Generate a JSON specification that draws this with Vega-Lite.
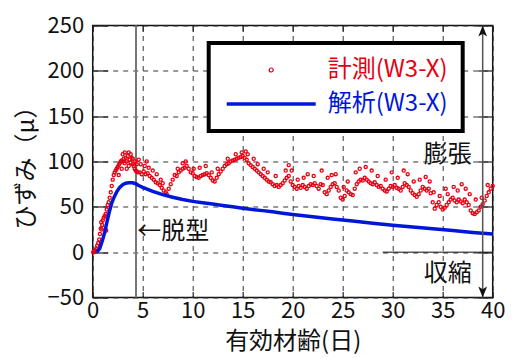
{
  "$schema": "https://vega.github.io/schema/vega-lite/v6.json",
  "width": 400,
  "height": 272,
  "autosize": {"type": "none"},
  "padding": {"left": 92.7, "top": 25.5, "right": 20.3, "bottom": 60.2},
  "background": "white",
  "config": {
    "font": "Noto Sans CJK JP",
    "view": {"stroke": "#111111", "strokeWidth": 1.5},
    "axis": {
      "labelFont": "Noto Sans CJK JP",
      "titleFont": "Noto Sans CJK JP",
      "labelFontSize": 22,
      "titleFontSize": 24,
      "titleFontWeight": "normal",
      "labelColor": "#111111",
      "titleColor": "#111111",
      "gridDash": [5, 5],
      "gridColor": "#333333",
      "gridOpacity": 1,
      "gridWidth": 1,
      "tickColor": "#222222",
      "tickWidth": 1.2,
      "domain": false
    },
    "legend": {"strokeWidth": 4}
  },
  "datasets": {
    "meas": [
      {"day":0.05,"strain":0},{"day":0.15,"strain":1},{"day":0.25,"strain":2},{"day":0.35,"strain":4},{"day":0.45,"strain":7},{"day":0.55,"strain":10},{"day":0.65,"strain":14},{"day":0.72,"strain":20},{"day":0.8,"strain":26},{"day":0.85,"strain":33},{"day":0.9,"strain":25},{"day":0.95,"strain":30},{"day":1.0,"strain":35},{"day":1.1,"strain":38},{"day":1.2,"strain":40},{"day":1.3,"strain":42},{"day":1.35,"strain":24},{"day":1.4,"strain":47},{"day":1.5,"strain":52},{"day":1.6,"strain":55},{"day":1.7,"strain":60},{"day":1.8,"strain":66},{"day":1.9,"strain":73},{"day":2.0,"strain":80},{"day":2.1,"strain":85},{"day":2.2,"strain":88},{"day":2.3,"strain":90},{"day":2.4,"strain":92},{"day":2.5,"strain":94},{"day":2.6,"strain":96},{"day":2.6,"strain":85},{"day":2.7,"strain":98},{"day":2.8,"strain":100},{"day":2.9,"strain":101},{"day":2.9,"strain":92},{"day":3.0,"strain":100},{"day":3.0,"strain":108},{"day":3.1,"strain":103},{"day":3.2,"strain":98},{"day":3.2,"strain":110},{"day":3.3,"strain":104},{"day":3.4,"strain":100},{"day":3.4,"strain":92},{"day":3.5,"strain":106},{"day":3.6,"strain":110},{"day":3.6,"strain":95},{"day":3.7,"strain":102},{"day":3.8,"strain":99},{"day":3.8,"strain":108},{"day":3.9,"strain":104},{"day":4.0,"strain":97},{"day":4.0,"strain":103},{"day":4.1,"strain":95},{"day":4.2,"strain":92},{"day":4.2,"strain":100},{"day":4.3,"strain":90},{"day":4.4,"strain":89},{"day":4.4,"strain":97},{"day":4.5,"strain":88},{"day":4.6,"strain":102},{"day":4.7,"strain":88},{"day":4.8,"strain":97},{"day":4.9,"strain":86},{"day":5.1,"strain":89},{"day":5.2,"strain":95},{"day":5.3,"strain":86},{"day":5.4,"strain":100},{"day":5.5,"strain":87},{"day":5.6,"strain":93},{"day":5.7,"strain":84},{"day":5.9,"strain":82},{"day":6.0,"strain":90},{"day":6.1,"strain":80},{"day":6.3,"strain":77},{"day":6.4,"strain":86},{"day":6.5,"strain":76},{"day":6.7,"strain":74},{"day":6.8,"strain":80},{"day":6.9,"strain":71},{"day":7.0,"strain":76},{"day":7.1,"strain":68},{"day":7.3,"strain":66},{"day":7.4,"strain":64},{"day":7.6,"strain":70},{"day":7.8,"strain":75},{"day":8.0,"strain":80},{"day":8.2,"strain":85},{"day":8.4,"strain":84},{"day":8.5,"strain":92},{"day":8.6,"strain":88},{"day":8.8,"strain":90},{"day":9.0,"strain":92},{"day":9.0,"strain":98},{"day":9.2,"strain":93},{"day":9.3,"strain":100},{"day":9.4,"strain":95},{"day":9.6,"strain":92},{"day":9.8,"strain":88},{"day":10.0,"strain":87},{"day":10.1,"strain":92},{"day":10.2,"strain":84},{"day":10.4,"strain":83},{"day":10.6,"strain":82},{"day":10.7,"strain":93},{"day":10.8,"strain":84},{"day":11.0,"strain":85},{"day":11.2,"strain":86},{"day":11.3,"strain":95},{"day":11.4,"strain":87},{"day":11.6,"strain":85},{"day":11.8,"strain":82},{"day":11.9,"strain":88},{"day":12.0,"strain":79},{"day":12.2,"strain":78},{"day":12.4,"strain":82},{"day":12.5,"strain":92},{"day":12.6,"strain":86},{"day":12.8,"strain":89},{"day":13.0,"strain":92},{"day":13.2,"strain":95},{"day":13.4,"strain":97},{"day":13.5,"strain":103},{"day":13.6,"strain":98},{"day":13.8,"strain":100},{"day":14.0,"strain":101},{"day":14.2,"strain":102},{"day":14.3,"strain":108},{"day":14.4,"strain":103},{"day":14.6,"strain":104},{"day":14.8,"strain":105},{"day":14.9,"strain":110},{"day":15.0,"strain":106},{"day":15.2,"strain":104},{"day":15.3,"strain":111},{"day":15.4,"strain":102},{"day":15.5,"strain":108},{"day":15.6,"strain":98},{"day":15.8,"strain":96},{"day":16.0,"strain":94},{"day":16.1,"strain":103},{"day":16.2,"strain":92},{"day":16.4,"strain":90},{"day":16.5,"strain":97},{"day":16.6,"strain":88},{"day":16.8,"strain":86},{"day":17.0,"strain":84},{"day":17.1,"strain":92},{"day":17.2,"strain":82},{"day":17.4,"strain":80},{"day":17.5,"strain":88},{"day":17.6,"strain":78},{"day":17.8,"strain":77},{"day":18.0,"strain":75},{"day":18.2,"strain":73},{"day":18.3,"strain":84},{"day":18.4,"strain":74},{"day":18.6,"strain":72},{"day":18.8,"strain":74},{"day":19.0,"strain":76},{"day":19.2,"strain":79},{"day":19.3,"strain":90},{"day":19.4,"strain":82},{"day":19.6,"strain":84},{"day":19.6,"strain":96},{"day":19.8,"strain":78},{"day":19.9,"strain":90},{"day":20.0,"strain":74},{"day":20.2,"strain":72},{"day":20.4,"strain":70},{"day":20.5,"strain":80},{"day":20.6,"strain":73},{"day":20.8,"strain":71},{"day":21.0,"strain":74},{"day":21.1,"strain":82},{"day":21.2,"strain":72},{"day":21.4,"strain":70},{"day":21.5,"strain":86},{"day":21.6,"strain":73},{"day":21.8,"strain":75},{"day":22.0,"strain":74},{"day":22.1,"strain":84},{"day":22.2,"strain":76},{"day":22.4,"strain":73},{"day":22.6,"strain":70},{"day":22.8,"strain":75},{"day":22.9,"strain":90},{"day":23.0,"strain":74},{"day":23.2,"strain":66},{"day":23.4,"strain":64},{"day":23.5,"strain":82},{"day":23.6,"strain":68},{"day":23.8,"strain":72},{"day":23.9,"strain":85},{"day":24.0,"strain":75},{"day":24.2,"strain":76},{"day":24.3,"strain":86},{"day":24.4,"strain":72},{"day":24.6,"strain":68},{"day":24.8,"strain":60},{"day":25.0,"strain":58},{"day":25.1,"strain":72},{"day":25.2,"strain":62},{"day":25.4,"strain":68},{"day":25.5,"strain":78},{"day":25.6,"strain":66},{"day":25.8,"strain":64},{"day":26.0,"strain":63},{"day":26.2,"strain":70},{"day":26.3,"strain":88},{"day":26.4,"strain":75},{"day":26.6,"strain":78},{"day":26.7,"strain":92},{"day":26.8,"strain":80},{"day":27.0,"strain":79},{"day":27.2,"strain":82},{"day":27.3,"strain":94},{"day":27.4,"strain":80},{"day":27.6,"strain":78},{"day":27.8,"strain":76},{"day":27.9,"strain":90},{"day":28.0,"strain":75},{"day":28.2,"strain":77},{"day":28.4,"strain":74},{"day":28.5,"strain":84},{"day":28.6,"strain":72},{"day":28.8,"strain":73},{"day":29.0,"strain":70},{"day":29.2,"strain":68},{"day":29.3,"strain":80},{"day":29.4,"strain":67},{"day":29.6,"strain":70},{"day":29.8,"strain":73},{"day":29.9,"strain":88},{"day":30.0,"strain":72},{"day":30.2,"strain":74},{"day":30.4,"strain":71},{"day":30.5,"strain":82},{"day":30.6,"strain":70},{"day":30.8,"strain":68},{"day":31.0,"strain":72},{"day":31.1,"strain":90},{"day":31.2,"strain":76},{"day":31.4,"strain":74},{"day":31.5,"strain":86},{"day":31.6,"strain":72},{"day":31.8,"strain":68},{"day":32.0,"strain":65},{"day":32.1,"strain":78},{"day":32.2,"strain":63},{"day":32.4,"strain":61},{"day":32.6,"strain":64},{"day":32.7,"strain":80},{"day":32.8,"strain":68},{"day":33.0,"strain":72},{"day":33.2,"strain":70},{"day":33.3,"strain":83},{"day":33.4,"strain":68},{"day":33.6,"strain":70},{"day":33.7,"strain":78},{"day":33.8,"strain":65},{"day":34.0,"strain":55},{"day":34.1,"strain":66},{"day":34.2,"strain":48},{"day":34.4,"strain":52},{"day":34.6,"strain":55},{"day":34.7,"strain":62},{"day":34.8,"strain":50},{"day":35.0,"strain":47},{"day":35.2,"strain":49},{"day":35.3,"strain":70},{"day":35.4,"strain":52},{"day":35.5,"strain":64},{"day":35.6,"strain":55},{"day":35.8,"strain":58},{"day":36.0,"strain":60},{"day":36.1,"strain":72},{"day":36.2,"strain":57},{"day":36.4,"strain":55},{"day":36.5,"strain":68},{"day":36.6,"strain":58},{"day":36.8,"strain":56},{"day":36.9,"strain":75},{"day":37.0,"strain":54},{"day":37.2,"strain":58},{"day":37.3,"strain":70},{"day":37.4,"strain":55},{"day":37.6,"strain":52},{"day":37.7,"strain":64},{"day":37.8,"strain":46},{"day":38.0,"strain":43},{"day":38.2,"strain":42},{"day":38.3,"strain":58},{"day":38.4,"strain":44},{"day":38.6,"strain":46},{"day":38.8,"strain":50},{"day":38.9,"strain":60},{"day":39.0,"strain":53},{"day":39.2,"strain":57},{"day":39.4,"strain":62},{"day":39.5,"strain":74},{"day":39.6,"strain":66},{"day":39.8,"strain":70},{"day":40.0,"strain":73}
    ],
    "anal": [
      {"day":0.4,"strain":0},{"day":0.7,"strain":4},{"day":1.0,"strain":14},{"day":1.2,"strain":22},{"day":1.4,"strain":32},{"day":1.65,"strain":44},{"day":1.9,"strain":54},{"day":2.15,"strain":61},{"day":2.4,"strain":66.5},{"day":2.7,"strain":71.5},{"day":3.0,"strain":74.5},{"day":3.3,"strain":76},{"day":3.6,"strain":76.5},{"day":4.0,"strain":76.5},{"day":4.3,"strain":75.5},{"day":4.6,"strain":73.5},{"day":5.0,"strain":71.5},{"day":6.0,"strain":67},{"day":7.0,"strain":63.5},{"day":8.0,"strain":60.5},{"day":9.0,"strain":58},{"day":10.0,"strain":56},{"day":11.0,"strain":54.5},{"day":12.0,"strain":53},{"day":13.0,"strain":51.5},{"day":14.0,"strain":50},{"day":15.0,"strain":48.5},{"day":16.0,"strain":47},{"day":17.0,"strain":45.8},{"day":18.0,"strain":44.5},{"day":19.0,"strain":43},{"day":20.0,"strain":41.6},{"day":22.0,"strain":39},{"day":24.0,"strain":36.5},{"day":26.0,"strain":34.3},{"day":28.0,"strain":32},{"day":30.0,"strain":29.8},{"day":32.0,"strain":27.8},{"day":34.0,"strain":25.8},{"day":36.0,"strain":23.8},{"day":38.0,"strain":21.8},{"day":40.0,"strain":20}
    ]
  },
  "resolve": {"axis": {"x": "independent", "y": "independent"}},
  "layer": [
    {
      "data": {"values": [{}]},
      "mark": {"type": "rule", "color": "#777777", "strokeWidth": 2},
      "encoding": {"x": {"datum": 4.33, "type": "quantitative", "axis": null}}
    },
    {
      "data": {"name": "meas"},
      "mark": {"type": "point", "filled": false, "size": 10, "strokeWidth": 1.3, "opacity": 1},
      "encoding": {
        "x": {"field": "day", "type": "quantitative", "scale": {"domain": [0, 40], "nice": false},
          "axis": {"orient": "bottom", "values": [0,5,10,15,20,25,30,35,40], "grid": true, "tickSize": -6, "labelPadding": 9, "labelFlush": false, "title": "有効材齢(日)", "titlePadding": 8}},
        "y": {"field": "strain", "type": "quantitative", "scale": {"domain": [-50, 250], "nice": false},
          "axis": {"orient": "left", "values": [-50,0,50,100,150,200,250], "grid": true, "tickSize": -15, "labelPadding": 24, "labelFlush": false, "title": "ひずみ（μ）", "titlePadding": 9}},
        "color": {
          "datum": "計測(W3-X)",
          "scale": {"domain": ["計測(W3-X)", "解析(W3-X)"], "range": ["#e60012", "#0016d9"]},
          "legend": {
            "orient": "none", "legendX": 116, "legendY": 17.5,
            "title": null,
            "padding": 15,
            "fillColor": "white",
            "strokeColor": "black",
            "labelFont": "Noto Sans CJK JP",
            "labelFontSize": 24,
            "labelOffset": 80,
            "labelLimit": 400,
            "rowPadding": 10,
            "symbolSize": 100,
            "symbolType": {"expr": "datum.value === '解析(W3-X)' ? 'M -1.8 0 L 16 0' : 'M 7.5 0 A 0.4 0.4 0 1 1 6.7 0 A 0.4 0.4 0 1 1 7.5 0 Z'"},
            "symbolStrokeWidth": {"expr": "datum.value === '解析(W3-X)' ? 3.5 : 1.2"},
            "symbolFillColor": "transparent",
            "labelColor": {"expr": "datum.value === '解析(W3-X)' ? '#0016d9' : '#e60012'"}
          }
        }
      }
    },
    {
      "data": {"name": "anal"},
      "mark": {"type": "line", "strokeWidth": 3.5},
      "encoding": {
        "x": {"field": "day", "type": "quantitative",
          "axis": {"orient": "top", "values": [0,5,10,15,20,25,30,35,40], "labels": false, "grid": false, "tickSize": -6, "title": null}},
        "y": {"field": "strain", "type": "quantitative",
          "axis": {"orient": "right", "values": [-50,0,50,100,150,200,250], "labels": false, "grid": false, "tickSize": -15, "title": null}},
        "color": {"datum": "解析(W3-X)"}
      }
    },
    {
      "data": {"values": [{}]},
      "mark": {"type": "rule", "color": "#555555", "strokeWidth": 1.5},
      "encoding": {"x": {"datum": 39.0, "type": "quantitative", "axis": null}}
    },
    {
      "data": {"values": [{}]},
      "mark": {"type": "rule", "color": "#111111", "strokeWidth": 1},
      "encoding": {
        "x": {"datum": 29, "type": "quantitative", "axis": null},
        "x2": {"datum": 40},
        "y": {"datum": 0, "type": "quantitative", "axis": null}
      }
    },
    {
      "data": {"values": [{}]},
      "mark": {"type": "point", "shape": "M 0 -1 L 0.8 1 L 0 0.5 L -0.8 1 Z", "filled": true, "color": "#111111", "size": 120, "opacity": 1},
      "encoding": {
        "x": {"datum": 39.0, "type": "quantitative", "axis": null},
        "y": {"datum": 244, "type": "quantitative", "axis": null}
      }
    },
    {
      "data": {"values": [{}]},
      "mark": {"type": "point", "shape": "M 0 1 L 0.8 -1 L 0 -0.5 L -0.8 -1 Z", "filled": true, "color": "#111111", "size": 120, "opacity": 1},
      "encoding": {
        "x": {"datum": 39.0, "type": "quantitative", "axis": null},
        "y": {"datum": -44, "type": "quantitative", "axis": null}
      }
    },
    {
      "data": {"values": [{}]},
      "mark": {"type": "text", "align": "left", "baseline": "middle", "fontSize": 24, "font": "Noto Sans CJK JP", "color": "#111111"},
      "encoding": {
        "x": {"datum": 4.45, "type": "quantitative", "axis": null},
        "y": {"datum": 22, "type": "quantitative", "axis": null},
        "text": {"value": "←脱型"}
      }
    },
    {
      "data": {"values": [{}]},
      "mark": {"type": "text", "align": "center", "baseline": "middle", "fontSize": 24, "font": "Noto Sans CJK JP", "color": "#111111"},
      "encoding": {
        "x": {"datum": 35.5, "type": "quantitative", "axis": null},
        "y": {"datum": 107, "type": "quantitative", "axis": null},
        "text": {"value": "膨張"}
      }
    },
    {
      "data": {"values": [{}]},
      "mark": {"type": "text", "align": "center", "baseline": "middle", "fontSize": 24, "font": "Noto Sans CJK JP", "color": "#111111"},
      "encoding": {
        "x": {"datum": 35.5, "type": "quantitative", "axis": null},
        "y": {"datum": -24, "type": "quantitative", "axis": null},
        "text": {"value": "収縮"}
      }
    }
  ]
}
